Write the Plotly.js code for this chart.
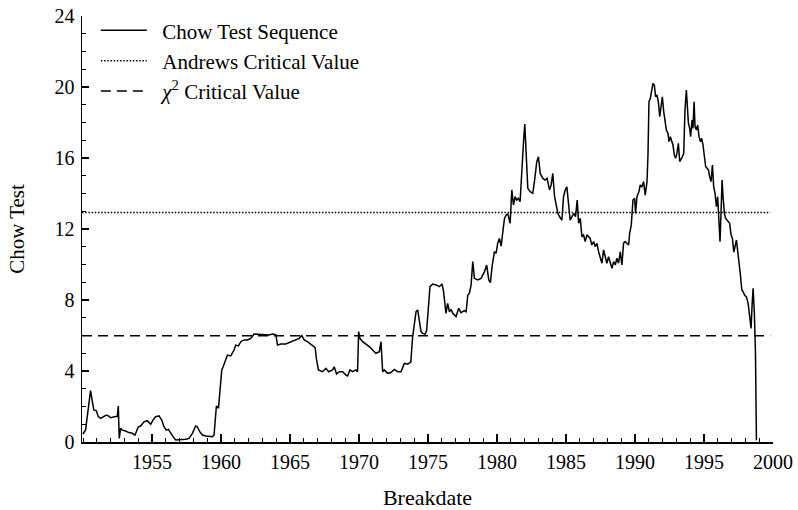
<!DOCTYPE html>
<html><head><meta charset="utf-8">
<script src="https://cdn.plot.ly/plotly-3.0.1.min.js"></script>
<style>html,body{margin:0;padding:0;background:#fff}#chart{width:798px;height:510px}</style>
</head><body><div id="chart"></div>
<script>
// Breakdate (decimal year) and Chow test statistic
const breakdates = [
1949.98,1950.18,1950.30,1950.42,1950.54,1950.67,1950.78,1950.95,1951.10,1951.27,1951.51,1951.68,1951.87,1951.99,
1952.36,1952.48,1952.55,1952.62,1952.72,1952.84,1953.08,1953.32,1953.57,1953.76,1953.86,1954.00,1954.17,1954.41,
1954.65,1954.90,1955.07,1955.26,1955.50,1955.70,1955.86,1956.03,1956.18,1956.35,1956.52,1956.71,1956.95,1957.19,
1957.44,1957.68,1957.92,1958.16,1958.28,1958.45,1958.65,1958.89,1959.13,1959.37,1959.49,1959.56,1959.66,1959.81,
1959.90,1960.05,1960.15,1960.34,1960.46,1960.70,1960.94,1961.06,1961.26,1961.43,1961.67,1961.91,1962.15,1962.39,
1962.76,1963.12,1963.48,1963.73,1963.97,1964.09,1964.33,1964.69,1964.93,1965.18,1965.42,1965.66,1965.85,1966.02,
1966.26,1966.51,1966.82,1966.92,1967.06,1967.35,1967.60,1967.79,1968.08,1968.20,1968.37,1968.56,1968.81,1969.05,
1969.17,1969.34,1969.53,1969.77,1969.89,1969.97,1970.06,1970.26,1970.50,1970.74,1970.98,1971.22,1971.47,1971.59,
1971.71,1971.83,1972.07,1972.31,1972.55,1972.80,1973.04,1973.28,1973.52,1973.75,1973.88,1974.01,1974.13,1974.25,
1974.37,1974.49,1974.61,1974.80,1974.90,1975.05,1975.14,1975.34,1975.58,1975.82,1976.01,1976.11,1976.30,1976.42,
1976.55,1976.67,1976.79,1977.03,1977.22,1977.39,1977.63,1977.76,1977.88,1978.00,1978.12,1978.24,1978.36,1978.60,
1978.84,1979.09,1979.25,1979.40,1979.52,1979.64,1979.81,1979.93,1980.05,1980.17,1980.30,1980.42,1980.54,1980.66,
1980.78,1980.95,1981.07,1981.19,1981.31,1981.43,1981.55,1981.67,1981.82,1981.92,1982.01,1982.11,1982.23,1982.40,
1982.59,1982.71,1982.88,1983.00,1983.13,1983.32,1983.49,1983.63,1983.80,1983.92,1984.04,1984.17,1984.29,1984.41,
1984.53,1984.70,1984.82,1984.94,1985.06,1985.16,1985.30,1985.45,1985.57,1985.69,1985.81,1985.91,1986.03,1986.15,
1986.27,1986.39,1986.51,1986.63,1986.75,1986.87,1987.00,1987.12,1987.24,1987.36,1987.48,1987.60,1987.72,1987.84,
1987.96,1988.08,1988.21,1988.33,1988.45,1988.57,1988.69,1988.81,1988.93,1989.05,1989.17,1989.29,1989.41,1989.54,
1989.61,1989.73,1989.85,1989.97,1990.04,1990.14,1990.28,1990.38,1990.50,1990.62,1990.74,1990.87,1990.94,1991.01,
1991.11,1991.20,1991.30,1991.40,1991.49,1991.59,1991.69,1991.79,1991.91,1991.98,1992.08,1992.17,1992.27,1992.39,
1992.46,1992.56,1992.66,1992.75,1992.85,1992.95,1993.04,1993.14,1993.24,1993.33,1993.43,1993.53,1993.62,1993.72,
1993.79,1993.87,1993.96,1994.03,1994.13,1994.20,1994.28,1994.35,1994.45,1994.54,1994.64,1994.74,1994.83,1994.93,
1995.03,1995.12,1995.22,1995.32,1995.41,1995.51,1995.61,1995.70,1995.80,1995.90,1995.99,1996.09,1996.16,1996.24,
1996.31,1996.38,1996.48,1996.57,1996.67,1996.77,1996.86,1996.96,1997.06,1997.16,1997.25,1997.35,1997.45,1997.54,
1997.64,1997.74,1997.83,1997.95,1998.07,1998.20,1998.32,1998.41,1998.49,1998.56,1998.65,1998.73,1998.80
];
const chowValues = [
0.45,0.68,1.43,2.18,2.89,2.27,1.81,1.77,1.43,1.33,1.43,1.52,1.46,1.37,
1.43,1.43,2.03,0.20,0.77,0.67,0.62,0.53,0.49,0.39,0.58,0.86,0.90,1.14,
1.20,1.00,1.24,1.43,1.47,1.24,0.86,0.67,0.71,0.49,0.30,0.11,0.11,0.15,
0.15,0.20,0.49,0.90,0.86,0.58,0.39,0.34,0.30,0.30,0.39,1.24,2.03,1.90,
2.64,4.06,4.24,4.71,4.90,4.85,5.18,5.46,5.41,5.65,5.75,5.75,5.84,6.08,
6.07,6.03,6.03,6.08,6.03,5.46,5.52,5.52,5.60,5.71,5.78,5.84,6.00,5.75,
5.65,5.52,5.31,4.62,4.06,3.96,4.15,3.96,4.06,4.24,3.83,3.96,3.96,3.77,
3.72,4.06,3.96,4.06,3.96,6.22,5.84,5.65,5.52,5.37,5.18,5.00,5.09,5.65,
3.96,4.06,3.87,3.91,4.09,3.96,3.96,4.43,4.39,4.50,5.90,6.69,7.35,7.44,
6.69,6.22,6.12,6.08,6.31,8.19,8.75,8.90,8.85,8.75,8.90,8.56,7.25,7.81,
7.34,7.47,7.25,7.07,7.53,7.29,7.40,7.34,8.28,8.38,8.85,10.16,9.22,9.13,
9.22,9.60,9.97,9.13,8.98,9.88,10.72,10.63,11.20,11.47,11.04,11.85,12.60,12.79,
12.85,12.32,14.20,13.35,13.82,13.63,13.73,13.54,15.89,16.92,17.92,16.45,14.29,14.10,
14.01,14.67,15.79,16.07,15.13,14.85,14.76,14.85,14.20,14.48,15.13,13.82,13.26,12.88,
12.69,12.50,13.82,14.20,14.38,13.54,12.50,12.73,12.88,12.69,13.63,12.32,12.60,11.57,
11.66,11.29,11.67,11.57,11.47,11.10,11.29,11.00,11.19,10.72,10.44,10.07,10.82,10.35,
10.07,10.44,10.07,9.78,10.16,9.97,10.35,10.07,10.72,9.97,11.20,11.29,11.20,11.10,
11.76,12.23,13.63,13.73,12.88,13.82,14.10,14.48,14.38,14.67,13.91,14.67,16.20,19.17,
19.36,19.83,20.20,20.11,19.45,19.55,19.17,18.33,18.90,19.45,18.61,18.14,17.58,17.39,
16.92,17.20,17.01,16.73,16.17,15.99,16.26,16.83,15.80,15.98,16.07,16.26,18.70,19.83,
18.70,17.96,17.67,17.20,18.14,17.67,19.17,17.77,17.58,17.86,17.20,16.92,17.11,16.73,
16.07,15.52,15.42,15.33,14.95,14.67,15.60,14.39,14.01,13.26,13.82,12.50,11.28,13.07,
14.76,13.82,12.88,12.60,12.51,12.40,12.32,11.67,11.47,10.70,11.00,11.38,10.70,9.88,
9.40,8.56,8.47,8.27,8.19,7.81,7.07,6.40,7.81,8.66,7.25,5.00,0.10
];
const andrewsCritical = 12.93;
const chiSqCritical = 5.99;
const criticalSpan = [1949.92, 1999.8];
const xTickYears = [1955, 1960, 1965, 1970, 1975, 1980, 1985, 1990, 1995, 2000];
const yTickValues = [0, 4, 8, 12, 16, 20, 24];
const seriesNames = ['Chow Test Sequence', 'Andrews Critical Value', '<i>χ</i><sup>2</sup> Critical Value'];
const xTitle = 'Breakdate';
const yTitle = 'Chow Test';

const serif = '"Liberation Serif", serif';
const legendLabels = seriesNames.map(s => '\u00a0\u00a0' + s);
const traces = [
  {x: breakdates, y: chowValues, name: legendLabels[0], type: 'scatter', mode: 'lines',
   line: {color: '#000', width: 1.5}},
  {x: criticalSpan, y: [andrewsCritical, andrewsCritical], name: legendLabels[1], type: 'scatter', mode: 'lines',
   line: {color: '#000', width: 1.5, dash: '1.5px,1.7px'}},
  {x: criticalSpan, y: [chiSqCritical, chiSqCritical], name: legendLabels[2], type: 'scatter', mode: 'lines',
   line: {color: '#000', width: 1.5, dash: '10px,6px'}}
];
const layout = {
  width: 798, height: 510,
  margin: {l: 82, r: 25, t: 16, b: 68, autoexpand: false},
  paper_bgcolor: '#fff', plot_bgcolor: '#fff',
  font: {family: serif, size: 20, color: '#000'},
  showlegend: true,
  legend: {x: 0.02, y: 0.98, yref: 'container', xanchor: 'left', yanchor: 'top', bgcolor: 'rgba(0,0,0,0)',
           font: {family: serif, size: 21, color: '#000'}, itemwidth: 46, tracegroupgap: 0},
  xaxis: {range: [1949.92, 2000], showline: true, linecolor: '#000', linewidth: 1.5,
          ticks: 'inside', ticklen: 8, tickwidth: 1.5, tickcolor: '#000',
          tickmode: 'array', tickvals: xTickYears, ticktext: xTickYears.map(String),
          minor: {ticks: 'inside', ticklen: 4, tickwidth: 1, tickcolor: '#000', dtick: 1, tick0: 1950, showgrid: false},
          showgrid: false, zeroline: false, tickfont: {family: serif, size: 20, color: '#000'},
          ticklabelstandoff: 1,
          title: {text: xTitle, font: {family: serif, size: 22, color: '#000'}, standoff: 20}},
  yaxis: {range: [0, 24], showline: true, linecolor: '#000', linewidth: 1.5,
          ticks: 'inside', ticklen: 7, tickwidth: 1.5, tickcolor: '#000',
          tickmode: 'array', tickvals: yTickValues, ticktext: yTickValues.map(String),
          minor: {ticks: 'inside', ticklen: 4, tickwidth: 1, tickcolor: '#000', dtick: 1, showgrid: false},
          showgrid: false, zeroline: false, tickfont: {family: serif, size: 20, color: '#000'},
          ticklabelstandoff: 2,
          title: {text: yTitle, font: {family: serif, size: 21, color: '#000'}, standoff: 24}}
};
Plotly.newPlot('chart', traces, layout, {displayModeBar: false, staticPlot: true});
</script>
</body></html>
